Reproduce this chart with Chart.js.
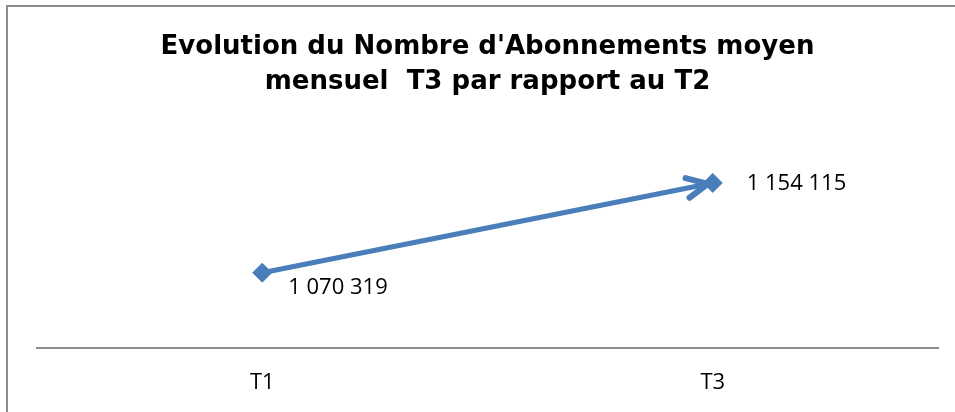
<!DOCTYPE html>
<html>
<head>
<meta charset="utf-8">
<script src="https://cdn.jsdelivr.net/npm/chart.js@4.4.0/dist/chart.umd.min.js"></script>
<style>
    html, body { margin: 0; padding: 0; background: #fff; }
    .frame {
        position: absolute;
        left: 6px;
        top: 5px;
        width: 980px;
        height: 440px;
        border: 2px solid #8c8c8c;
        box-sizing: border-box;
    }
    .chart-box {
        position: absolute;
        left: 0;
        top: 0;
        width: 955px;
        height: 412px;
    }
</style>
</head>
<body>
<div class="frame"></div>
<div class="chart-box"><canvas id="chart"></canvas></div>
<script>
const categories = ['T1', 'T3'];
const abonnements = [1070319, 1154115];
const titleLines = ["Evolution du Nombre d'Abonnements moyen", 'mensuel  T3 par rapport au T2'];

const lineColor = '#4a7ebb';
const textFont = '"Open Sans", "Noto Sans", sans-serif';

function formatNumber(v) {
    return String(v).replace(/\B(?=(\d{3})+(?!\d))/g, ' ');
}

// arrow head at the end of the series, like the excel line end
const arrowPlugin = {
    id: 'arrowEnd',
    afterDatasetsDraw(chart) {
        const pts = chart.getDatasetMeta(0).data;
        if (pts.length < 2) return;
        const a = pts[pts.length - 2], b = pts[pts.length - 1];
        const ang = Math.atan2(b.y - a.y, b.x - a.x);
        const tipX = b.x - Math.cos(ang) * 5;
        const tipY = b.y - Math.sin(ang) * 5;
        const len = 23;
        const spread = 0.45;
        const ctx = chart.ctx;
        ctx.save();
        ctx.strokeStyle = lineColor;
        ctx.lineWidth = 6;
        ctx.lineCap = 'round';
        ctx.lineJoin = 'round';
        ctx.beginPath();
        ctx.moveTo(tipX - Math.cos(ang - spread) * len, tipY - Math.sin(ang - spread) * len);
        ctx.lineTo(tipX, tipY);
        ctx.lineTo(tipX - Math.cos(ang + spread) * len, tipY - Math.sin(ang + spread) * len);
        ctx.stroke();
        ctx.restore();
    }
};

// value labels next to each point
const labelOffsets = [{ dx: 26, dy: 15 }, { dx: 34, dy: 1 }];
const valueLabels = {
    id: 'valueLabels',
    afterDatasetsDraw(chart) {
        const ctx = chart.ctx;
        const meta = chart.getDatasetMeta(0);
        ctx.save();
        ctx.font = '22px ' + textFont;
        ctx.fillStyle = '#000';
        ctx.textAlign = 'left';
        ctx.textBaseline = 'middle';
        meta.data.forEach((pt, i) => {
            const off = labelOffsets[i];
            ctx.fillText(formatNumber(abonnements[i]), pt.x + off.dx, pt.y + off.dy);
        });
        ctx.restore();
    }
};

const ctx = document.getElementById('chart').getContext('2d');
new Chart(ctx, {
    type: 'line',
    data: {
        labels: categories,
        datasets: [{
            data: abonnements,
            borderColor: lineColor,
            borderWidth: 5,
            backgroundColor: lineColor,
            pointStyle: 'rectRot',
            pointRadius: 9.5,
            pointBorderWidth: 1,
            pointBorderColor: lineColor,
            tension: 0
        }]
    },
    options: {
        responsive: true,
        maintainAspectRatio: false,
        animation: false,
        layout: {
            padding: { left: 37, right: 17, top: 0, bottom: 14 }
        },
        plugins: {
            legend: { display: false },
            tooltip: { enabled: false },
            title: {
                display: true,
                text: titleLines,
                color: '#000',
                font: { family: '"DejaVu Sans", sans-serif', size: 26, weight: 'bold', lineHeight: 1.35 },
                padding: { top: 30, bottom: 55 }
            }
        },
        scales: {
            x: {
                offset: true,
                grid: { display: false, drawTicks: false },
                border: { display: true, color: '#8c8c8c', width: 2 },
                ticks: {
                    color: '#000',
                    padding: 22,
                    font: { family: textFont, size: 22 }
                },
                afterFit(scale) {
                    scale.height = 50;
                }
            },
            y: {
                display: false,
                min: 1000000,
                max: 1180000
            }
        }
    },
    plugins: [arrowPlugin, valueLabels]
});
</script>
</body>
</html>
